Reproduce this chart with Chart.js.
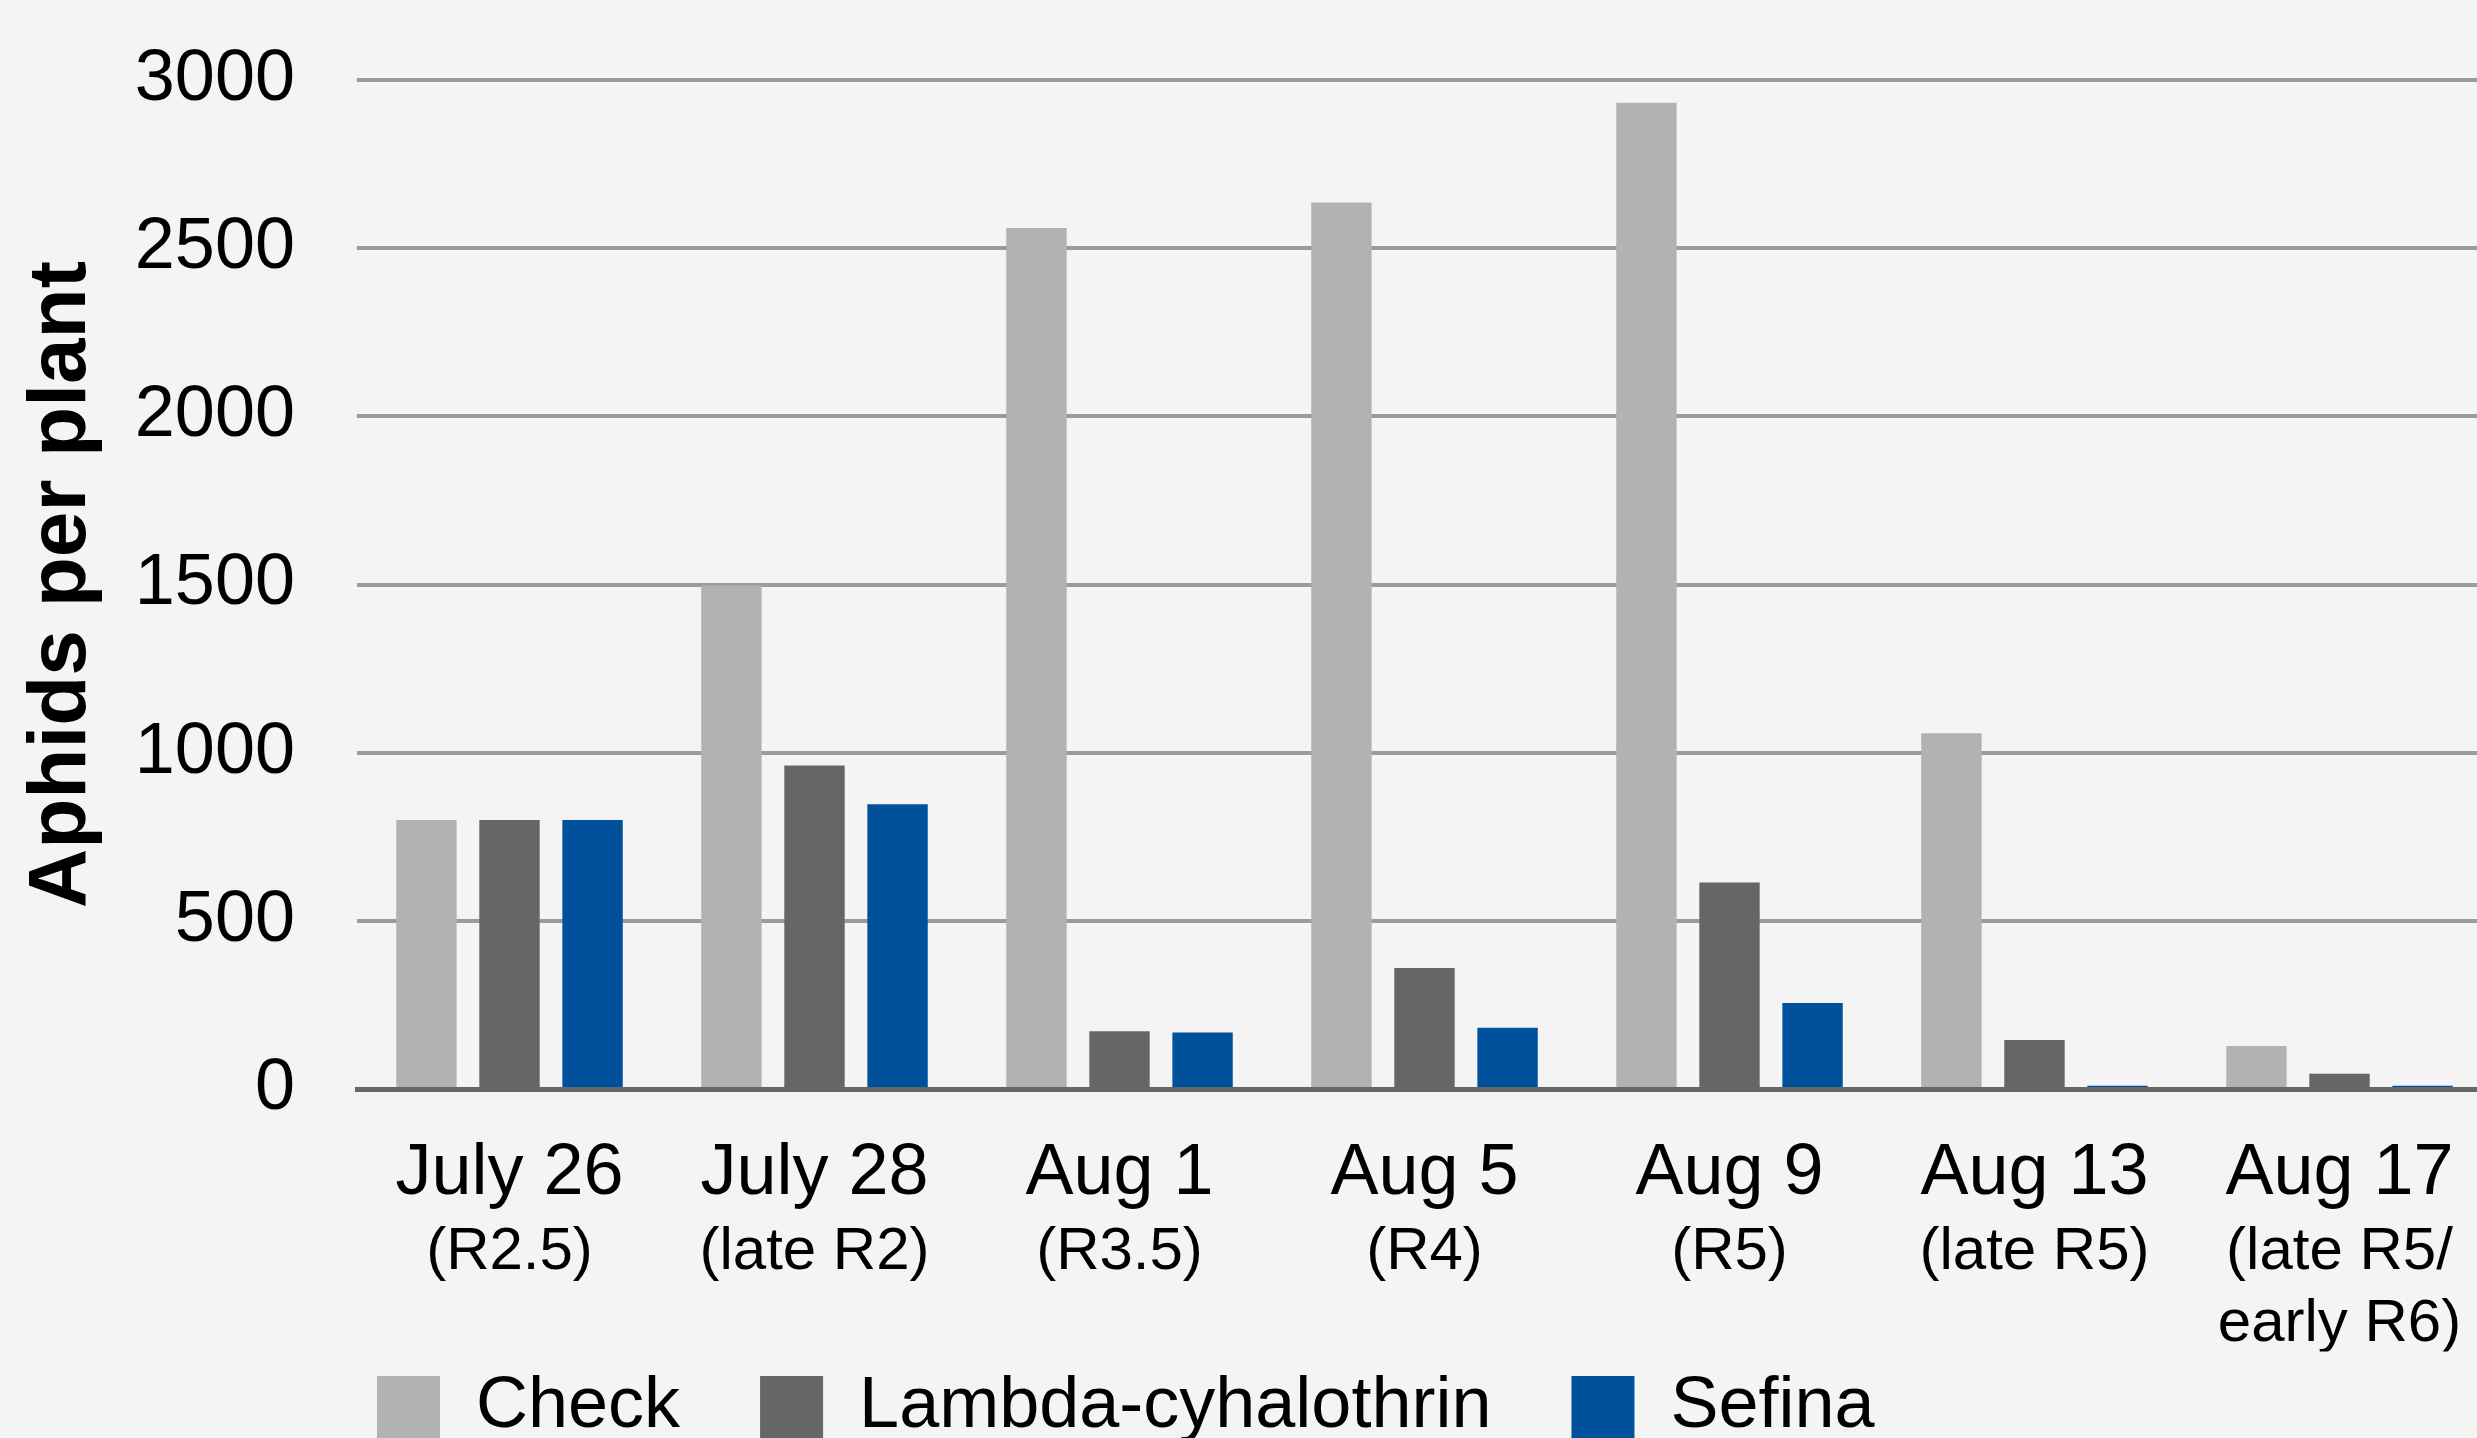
<!DOCTYPE html>
<html lang="en">
<head>
  <meta charset="UTF-8" />
  <title>Aphids per plant</title>
  <script src="https://cdn.jsdelivr.net/npm/chart.js"></script>
  <style>
    html, body { margin: 0; padding: 0; background: #f4f4f4; overflow: hidden; }
    canvas { display: block; }
  </style>
</head>
<body>
  <!-- a bit wider than the window: the plot runs past the right edge -->
  <canvas id="aphidChart" width="2492" height="1438"></canvas>

  <script>
    // sample dates and growth stage under each date
    const dates = ['July 26', 'July 28', 'Aug 1', 'Aug 5', 'Aug 9', 'Aug 13', 'Aug 17'];
    const stages = ['(R2.5)', '(late R2)', '(R3.5)', '(R4)', '(R5)', '(late R5)', ['(late R5/', 'early R6)']];

    // aphids per plant
    const check  = [800, 1497, 2560, 2636, 2932, 1058, 128];
    const lambda = [800, 962, 172, 360, 614, 146, 45];
    const sefina = [800, 847, 168, 182, 256, 10, 10];

    const yTicks = [0, 500, 1000, 1500, 2000, 2500, 3000];

    Chart.defaults.font.family = "'Liberation Sans', Arial, sans-serif";
    Chart.defaults.color = '#000';

    const noSidePad = s => { s.paddingLeft = 0; s.paddingRight = 0; };

    const ctx = document.getElementById('aphidChart').getContext('2d');
    new Chart(ctx, {
      type: 'bar',
      data: {
        labels: dates,
        datasets: [
          { label: 'Check', data: check, backgroundColor: '#b2b2b2' },
          { label: 'Lambda-cyhalothrin', data: lambda, backgroundColor: '#666666' },
          { label: 'Sefina', data: sefina, backgroundColor: '#00519c' }
        ]
      },
      options: {
        responsive: false,
        animation: false,
        devicePixelRatio: 1,
        categoryPercentage: 0.817,
        barPercentage: 0.727,
        layout: { padding: { top: 80, right: 0, bottom: -15.5, left: 0 } },
        scales: {
          x: {
            weight: 0,
            grid: { display: false, drawTicks: false, tickLength: 0 },
            border: { display: true, color: '#666666', width: 5 },
            ticks: { font: { size: 72 }, padding: 42, maxRotation: 0, autoSkip: false },
            afterFit: s => { s.height = 127; noSidePad(s); }
          },
          x2: {
            type: 'category',
            position: 'bottom',
            weight: 1,
            labels: stages,
            offset: true,
            grid: { display: false, drawTicks: false, tickLength: 0 },
            border: { display: false },
            ticks: { font: { size: 60 }, padding: 0, maxRotation: 0, autoSkip: false },
            afterFit: s => { s.height = 135.5; noSidePad(s); }
          },
          y: {
            min: 0,
            max: 3000,
            grid: { color: '#9b9b9b', lineWidth: 4, drawTicks: false },
            border: { display: false },
            ticks: { font: { size: 72 }, padding: 62, callback: v => String(v) },
            afterBuildTicks: s => { s.ticks = yTicks.map(v => ({ value: v })); },
            afterFit: s => {
              s.width = 357;
              // keep the tick padding from pushing the plot down
              s.paddingTop = 40;
              s.paddingBottom = 40;
            },
            title: {
              display: true,
              text: 'Aphids per plant',
              font: { size: 82, weight: 'bold' },
              padding: { top: 13, bottom: 0 }
            }
          }
        },
        plugins: {
          legend: {
            position: 'bottom',
            align: 'start',
            fullSize: false,
            labels: {
              boxWidth: 63,
              boxHeight: 63,
              padding: 20,
              font: { size: 72 },
              generateLabels: chart =>
                Chart.defaults.plugins.legend.labels.generateLabels(chart)
                  .map(l => ({ ...l, text: l.text + '   ' }))
            }
          },
          tooltip: { enabled: false }
        }
      }
    });
  </script>
</body>
</html>
